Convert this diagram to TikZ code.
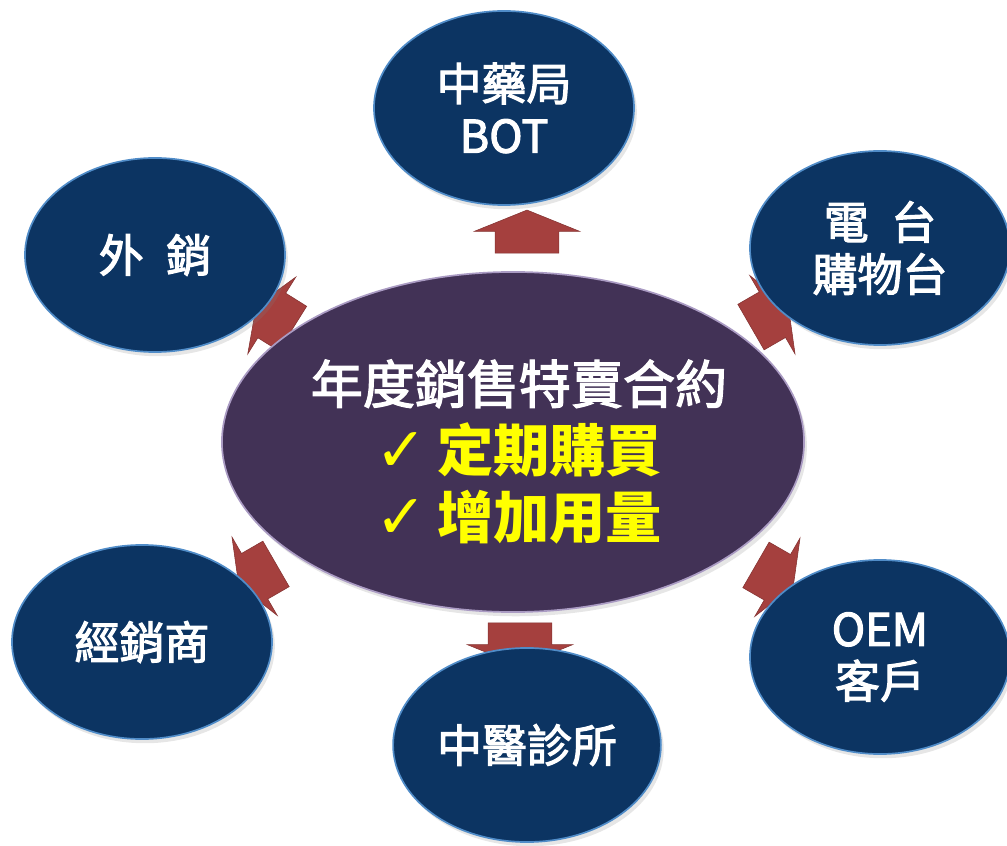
\documentclass[tikz,border=0pt]{standalone}
\usepackage{fontspec}
\newfontfamily\cjk{Noto Sans CJK TC}
\newfontfamily\cjkmid{Noto Sans CJK TC}[FakeBold=2.5]
\newfontfamily\symfont{DejaVu Sans}
\usetikzlibrary{shapes.geometric,shapes.arrows,shadows}

\definecolor{navyfill}{RGB}{12,52,98}
\definecolor{navyrim}{RGB}{80,140,200}
\definecolor{plumfill}{RGB}{66,50,86}
\definecolor{plumrim}{RGB}{170,155,195}
\definecolor{brick}{RGB}{165,64,62}
\definecolor{ckyellow}{RGB}{255,255,0}

\tikzset{
  market/.style={ellipse, minimum width=6.5cm, minimum height=4.85cm,
    fill=navyfill, draw=navyrim, line width=1.2pt,
    drop shadow={shadow xshift=2pt, shadow yshift=-3pt, opacity=0.2},
    text=white, align=center, font=\cjkmid\fontsize{32}{37}\selectfont},
  hub/.style={ellipse, minimum width=14.55cm, minimum height=8.5cm,
    fill=plumfill, draw=plumrim, line width=1.2pt,
    drop shadow={shadow xshift=2pt, shadow yshift=-3pt, opacity=0.2}},
  terms/.style={text=white, align=center, font=\cjkmid\fontsize{37}{48}\selectfont},
  flow/.style={single arrow, fill=brick, draw=brick!80!black, line width=0.4pt,
    inner xsep=0pt, single arrow tip angle=136, minimum height=1.075cm},
  flowwide/.style={flow, inner ysep=0.7875cm, single arrow head extend=0.525cm},
  flowslant/.style={flow, inner ysep=0.65cm, single arrow head extend=0.475cm}
}

\begin{document}
\begin{tikzpicture}[x=0.025cm, y=-0.025cm]
  \useasboundingbox (0,0) rectangle (1007,846);

  % arrows first, ellipses cover their tips
  \node[flowwide, rotate=90] (up) at (527,238) {};
  \node[flowwide, rotate=270] (down) at (520,638) {};
  \node[flowslant, rotate=148] (upleft) at (279,320) {};
  \node[flowslant, rotate=30] (upright) at (765,319) {};
  \node[flowslant, rotate=210] (downleft) at (262,572) {};
  \node[flowslant, rotate=330] (downright) at (770,573) {};

  \node[market] (herbal) at (504,108) {中藥局\\BOT};
  \node[market] (export) at (155,255) {外\hspace{0.5em}銷};
  \node[market] (tvshop) at (880,248) {電\hspace{0.5em}台\\購物台};
  \node[market] (dealer) at (142,642) {經銷商};
  \node[market] (oem) at (880,657) {OEM\\客戶};
  \node[market] (clinic) at (527,745) {中醫診所};

  \node[hub] (contract) at (513,442) {};
  \node[terms] (contracttext) at (519,452) {年度銷售特賣合約\\
    {\color{ckyellow}\fontsize{40}{48}\selectfont\cjk\bfseries{\symfont\fontsize{44}{48}\selectfont ✓}\,定期購買}\\
    {\color{ckyellow}\fontsize{40}{48}\selectfont\cjk\bfseries{\symfont\fontsize{44}{48}\selectfont ✓}\,增加用量}};
\end{tikzpicture}
\end{document}
